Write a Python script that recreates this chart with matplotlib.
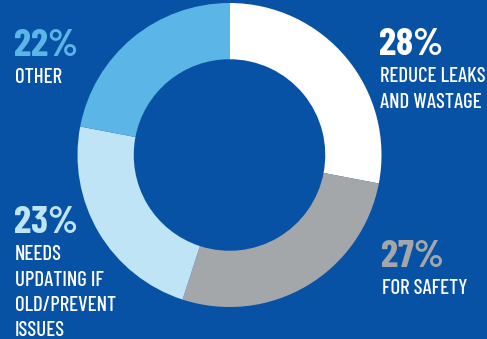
import matplotlib
matplotlib.use("Agg")
import matplotlib.pyplot as plt

categories = ["REDUCE LEAKS\nAND WASTAGE", "FOR SAFETY", "NEEDS\nUPDATING IF\nOLD/PREVENT\nISSUES", "OTHER"]
values = [28, 27, 23, 22]
pct_labels = ["28%", "27%", "23%", "22%"]
colors = ["#ffffff", "#a4a7aa", "#bee4f6", "#5bb5e7"]
bg = "#0752a4"
fam = ["Barlow Condensed", "DejaVu Sans"]

W, H = 487, 339
fig = plt.figure(figsize=(W / 100, H / 100), dpi=100, facecolor=bg)

cx, cy, r = 229.5, 155, 152
ax = fig.add_axes([(cx - r) / W, (H - cy - r) / H, 2 * r / W, 2 * r / H])
ax.set_facecolor(bg)
ax.pie(values, colors=colors, startangle=90, counterclock=False,
       radius=1.0, wedgeprops=dict(width=0.37, edgecolor="none"))
ax.set_xlim(-1, 1)
ax.set_ylim(-1, 1)
ax.axis("off")

# label anchor positions (left x, baseline of percent line) in pixels
anchors = [(380, 55), (382, 267), (15, 233), (15, 56)]
first_gap = 27
line_gap = 25.5

def px(x, y):
    return x / W, 1 - y / H

for (x, yb), pct, cat, col in zip(anchors, pct_labels, categories, colors):
    fig.text(*px(x - 1, yb), pct, color=col, fontsize=28, fontweight=700,
             family=fam, ha="left", va="baseline")
    for i, line in enumerate(cat.split("\n")):
        fig.text(*px(x, yb + first_gap + i * line_gap), line, color="white",
                 fontsize=15, fontweight=500, family=fam, ha="left", va="baseline")

fig.savefig("out.png", dpi=100, facecolor=bg)
